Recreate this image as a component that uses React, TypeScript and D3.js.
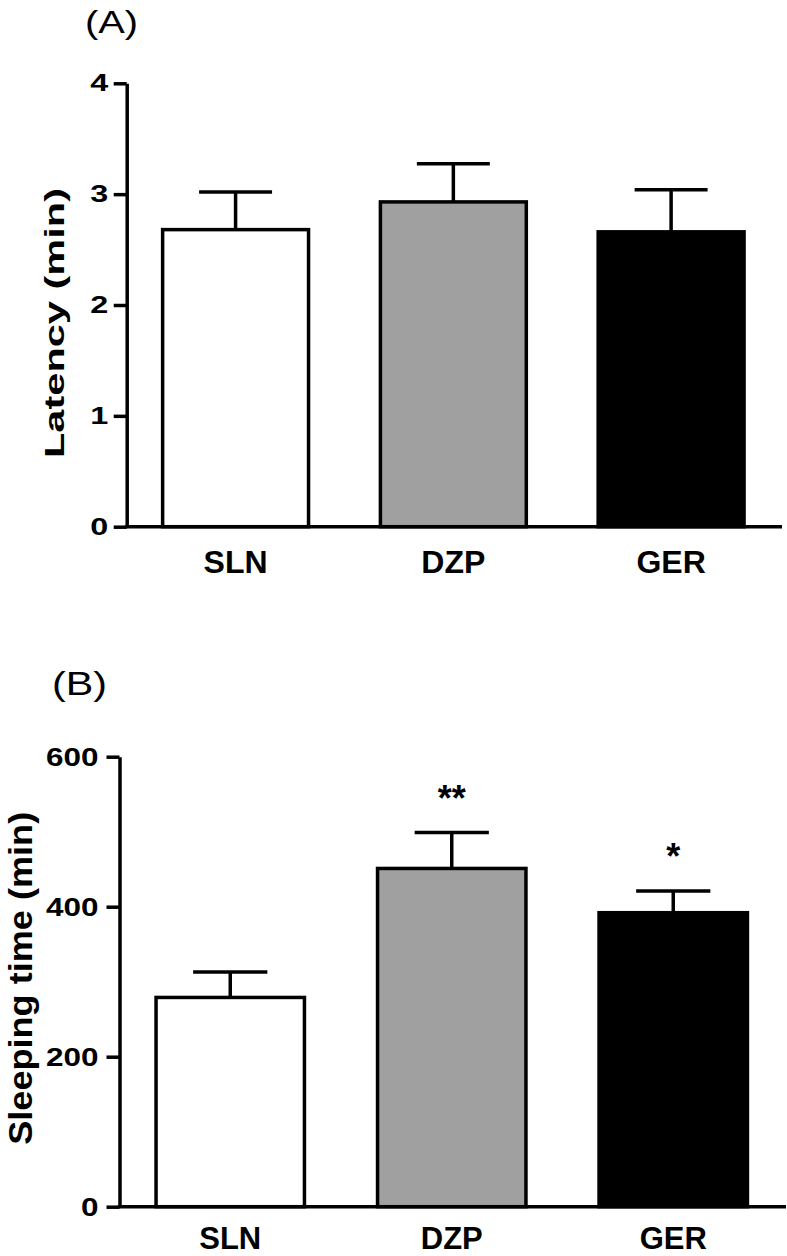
import * as React from 'react';
import { useEffect, useRef } from 'react';
import * as d3 from 'd3';

const groups = ['SLN', 'DZP', 'GER'];
const barFills = ['#ffffff', '#a0a0a0', '#000000'];

// (A) latency, min
const latencyMean = [2.68, 2.93, 2.66];
const latencySem = [0.34, 0.345, 0.38];
const latencyTicks = [0, 1, 2, 3, 4];

// (B) sleeping time, min
const sleepMean = [279, 451, 392];
const sleepSem = [34, 48, 29];
const sleepStars = ['', '**', '*'];
const sleepTicks = [0, 200, 400, 600];

const font = '"Liberation Sans", Arial, Helvetica, sans-serif';

interface PanelOpts {
    tag: string; tagX: number; tagY: number; tagSize: number; tagLen: number;
    label: string; labelX: number; labelY: number; labelSize: number; labelLen: number;
    means: number[]; sems: number[]; stars?: string[];
    ticks: number[]; max: number;
    x0: number; x1: number; yTop: number; yBottom: number;
    tickPad: number; tickFont: number; digitW: number;
    catBaseline: number; catSize: number;
}

const drawPanel = (svg: d3.Selection<SVGSVGElement, unknown, null, undefined>, o: PanelOpts) => {
    const g = svg.append('g');
    const y = d3.scaleLinear().domain([0, o.max]).range([o.yBottom, o.yTop]);
    const x = d3.scaleBand().domain(groups).range([o.x0, o.x1]).paddingInner(0.33).paddingOuter(0.165);
    const bw = x.bandwidth();

    // bars
    g.selectAll('rect.bar').data(o.means)
        .join('rect')
        .attr('x', (d, i) => x(groups[i])!)
        .attr('y', d => y(d))
        .attr('width', bw)
        .attr('height', d => y(0) - y(d))
        .attr('fill', (d, i) => barFills[i])
        .attr('stroke', '#000')
        .attr('stroke-width', 3.5);

    // upper error bars (+ stars)
    o.means.forEach((m, i) => {
        const cx = x(groups[i])! + bw / 2;
        const top = y(m + o.sems[i]);
        g.append('line').attr('x1', cx).attr('x2', cx).attr('y1', y(m)).attr('y2', top)
            .attr('stroke', '#000').attr('stroke-width', 3.5);
        g.append('line').attr('x1', cx - bw / 4).attr('x2', cx + bw / 4).attr('y1', top).attr('y2', top)
            .attr('stroke', '#000').attr('stroke-width', 3.5);
        if (o.stars && o.stars[i]) {
            g.append('text').attr('x', cx).attr('y', top - 42 + 20.5)
                .attr('text-anchor', 'middle').attr('font-family', font).attr('font-weight', 'bold')
                .attr('font-size', 36).text(o.stars[i]);
        }
    });

    // y axis
    const yAxis = d3.axisLeft(y).tickValues(o.ticks).tickSize(13).tickSizeOuter(0).tickPadding(o.tickPad)
        .tickFormat(d => String(d));
    const ax = g.append('g').attr('transform', `translate(${o.x0},0)`).call(yAxis);
    ax.select('.domain').attr('stroke', '#000').attr('stroke-width', 3.5);
    ax.selectAll('.tick line').attr('stroke', '#000').attr('stroke-width', 3.5);
    ax.selectAll<SVGTextElement, number>('.tick text')
        .attr('fill', '#000')
        .attr('font-family', font)
        .attr('font-weight', 'bold')
        .attr('font-size', o.tickFont)
        .attr('textLength', d => String(d).length * o.digitW)
        .attr('lengthAdjust', 'spacingAndGlyphs');

    // x axis baseline
    g.append('line').attr('x1', o.x0 - 1.75).attr('x2', o.x1 + 2).attr('y1', y(0)).attr('y2', y(0))
        .attr('stroke', '#000').attr('stroke-width', 3.5);

    // category labels
    g.selectAll('text.cat').data(groups)
        .join('text')
        .attr('x', d => x(d)! + bw / 2)
        .attr('y', o.catBaseline)
        .attr('text-anchor', 'middle')
        .attr('font-family', font).attr('font-weight', 'bold').attr('font-size', o.catSize)
        .text(d => d);

    // y label
    g.append('text')
        .attr('transform', `translate(${o.labelX},${o.labelY}) rotate(-90)`)
        .attr('text-anchor', 'middle')
        .attr('font-family', font).attr('font-weight', 'bold').attr('font-size', o.labelSize)
        .attr('textLength', o.labelLen).attr('lengthAdjust', 'spacingAndGlyphs')
        .text(o.label);

    // panel tag
    g.append('text').attr('x', o.tagX).attr('y', o.tagY)
        .attr('font-family', font).attr('font-size', o.tagSize)
        .attr('textLength', o.tagLen).attr('lengthAdjust', 'spacingAndGlyphs')
        .text(o.tag);
};

const App: React.FC = () => {
    const svgRef = useRef<SVGSVGElement | null>(null);

    useEffect(() => {
        if (!svgRef.current) return;
        const svg = d3.select(svgRef.current);
        svg.selectAll('*').remove();

        drawPanel(svg, {
            tag: '(A)', tagX: 85, tagY: 33, tagSize: 32, tagLen: 53,
            label: 'Latency (min)', labelX: 64, labelY: 323, labelSize: 27, labelLen: 270,
            means: latencyMean, sems: latencySem,
            ticks: latencyTicks, max: 4,
            x0: 126.7, x1: 780, yTop: 83.3, yBottom: 526.7,
            tickPad: 5.5, tickFont: 24, digitW: 18,
            catBaseline: 572.7, catSize: 32,
        });

        drawPanel(svg, {
            tag: '(B)', tagX: 52, tagY: 695, tagSize: 33, tagLen: 55,
            label: 'Sleeping time (min)', labelX: 31.5, labelY: 978.3, labelSize: 34, labelLen: 333,
            means: sleepMean, sems: sleepSem, stars: sleepStars,
            ticks: sleepTicks, max: 600,
            x0: 119.5, x1: 784, yTop: 756.7, yBottom: 1206.7,
            tickPad: 8, tickFont: 26, digitW: 17.5,
            catBaseline: 1249, catSize: 31,
        });
    }, []);

    return (
        <svg ref={svgRef} width={787} height={1256}
            style={{ position: 'absolute', left: 0, top: 0, background: '#fff' }} />
    );
};

export default App;
